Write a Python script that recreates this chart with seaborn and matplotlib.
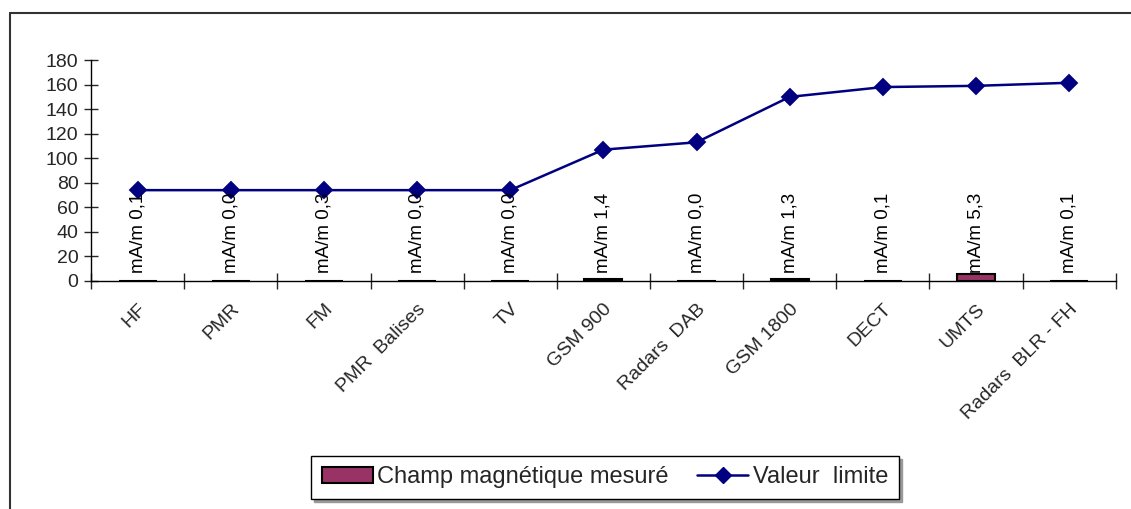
import matplotlib
matplotlib.use("Agg")
import matplotlib.pyplot as plt
import numpy as np
import seaborn as sns
from matplotlib.lines import Line2D
from matplotlib.patches import Patch

# Data
categories = ["HF", "PMR", "FM", "PMR  Balises", "TV", "GSM 900", "Radars  DAB",
              "GSM 1800", "DECT", "UMTS", "Radars  BLR - FH"]
measured = [0.1, 0.0, 0.3, 0.0, 0.0, 1.4, 0.0, 1.3, 0.1, 5.3, 0.1]
measured_labels = ["0,1", "0,0", "0,3", "0,0", "0,0", "1,4", "0,0", "1,3", "0,1", "5,3", "0,1"]
limits = [74, 74, 74, 74, 74, 107, 113, 150, 158, 159, 161.5]

sns.set_style("white")
plt.rcParams['font.family'] = ['Liberation Sans', 'DejaVu Sans']
plt.rcParams['font.size'] = 13

bar_color = "#993366"
line_color = "#000080"

fig = plt.figure(figsize=(11.31, 5.09), dpi=100)
ax = fig.add_axes([0.0805, 0.448, 0.906, 0.434])

sns.barplot(x=categories, y=measured, color=bar_color, edgecolor="black",
            linewidth=1.5, width=0.41, saturation=1, ax=ax)
sns.pointplot(x=categories, y=limits, color=line_color, marker="D",
              markersize=8.5, linewidth=1.8, ax=ax)

# value labels, rotated
for i, lab in enumerate(measured_labels):
    ax.text(i, 6.5, "mA/m " + lab, rotation=90, ha="center", va="bottom",
            fontsize=13.5, color="black")

ax.set_xlim(-0.5, len(categories) - 0.5)
ax.set_ylim(0, 180)
ax.set_yticks(range(0, 181, 20))

# ticks at category boundaries
ax.set_xticks(np.arange(len(categories)))
ax.set_xticklabels(categories, rotation=45, ha="right", rotation_mode="anchor",
                   fontsize=14)
ax.set_xticks(np.arange(-0.5, len(categories)), minor=True)
ax.tick_params(axis="x", which="major", length=0, pad=14)
ax.tick_params(axis="x", which="minor", length=11, width=1, direction="inout",
               bottom=True)
ax.tick_params(axis="y", length=10, width=1, direction="inout", left=True,
               pad=4, labelsize=14)

for s in ["top", "right"]:
    ax.spines[s].set_visible(False)
for s in ["left", "bottom"]:
    ax.spines[s].set_color("black")
    ax.spines[s].set_linewidth(1)
ax.set_xlabel("")
ax.set_ylabel("")

# outer chart frame (left and top edges visible)
fig.add_artist(Line2D([10 / 1131, 10 / 1131], [0, 1 - 13 / 509], color="#333333", lw=1.5))
fig.add_artist(Line2D([10 / 1131, 1], [1 - 13 / 509, 1 - 13 / 509], color="#333333", lw=1.5))

handles = [Patch(facecolor=bar_color, edgecolor="black", linewidth=1.5),
           Line2D([], [], color=line_color, marker="D", markersize=8, linewidth=1.8)]
leg = fig.legend(handles, ["Champ magnétique mesuré", "Valeur  limite"],
                 loc="center", bbox_to_anchor=(0.535, 0.062), ncol=2,
                 frameon=True, fancybox=False, fontsize=17,
                 shadow={"color": "#999999", "alpha": 1.0},
                 handlelength=2.15, columnspacing=1.2, handletextpad=0.2,
                 borderpad=0.45, framealpha=1)
leg.get_frame().set_edgecolor("black")
leg.get_frame().set_linewidth(1)

fig.savefig("out.png", dpi=100)
